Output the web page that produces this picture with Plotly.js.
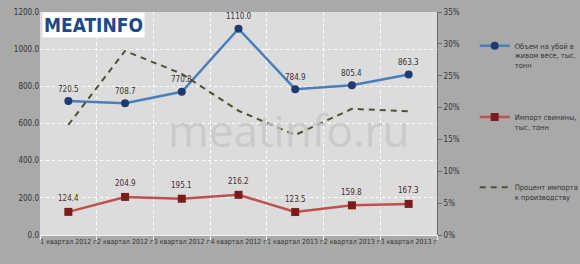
<!DOCTYPE html>
<html><head><meta charset="utf-8">
<script src="https://cdn.plot.ly/plotly-3.0.1.min.js"></script>
<style>html,body{margin:0;padding:0;background:#a9a9a9}#c{width:580px;height:264px}</style>
</head><body><div id="c"></div>
<script>
const categories = ['1 квартал 2012 г','2 квартал 2012 г','3 квартал 2012 г','4 квартал 2012 г','1 квартал 2013 г','2 квартал 2013 г','3 квартал 2013 г'];
const slaughter = [720.5, 708.7, 770.8, 1110.0, 784.9, 805.4, 863.3];
const importPork = [124.4, 204.9, 195.1, 216.2, 123.5, 159.8, 167.3];
const importShare = [17.3, 28.9, 25.3, 19.5, 15.7, 19.8, 19.4];
const seriesNames = ['Объем на убой в<br>живом весе, тыс.<br>тонн', 'Импорт свинины,<br>тыс. тонн', 'Процент импорта<br>к производству'];

const F = '"DejaVu Sans Condensed", "Liberation Sans Narrow", "Arial Narrow", sans-serif';
const txt = '#333333';

const traces = [
  {x: categories, y: slaughter, name: seriesNames[0], mode: 'lines+markers', legend: 'legend',
   line: {color: '#4a7ebb', width: 2.5}, marker: {color: '#1f3a6e', size: 8, symbol: 'circle'}, cliponaxis: false},
  {x: categories, y: importPork, name: seriesNames[1], mode: 'lines+markers', legend: 'legend2',
   line: {color: '#c0504d', width: 2.5}, marker: {color: '#7a1c1c', size: 8, symbol: 'square'}, cliponaxis: false},
  {x: categories, y: importShare, name: seriesNames[2], mode: 'lines', yaxis: 'y2', legend: 'legend3',
   line: {color: '#4f4f3a', width: 2, dash: '6px,5px'}}
];

const labelAnn = [];
categories.forEach((c, i) => {
  labelAnn.push({x: c, y: slaughter[i], xref: 'x', yref: 'y', text: slaughter[i].toFixed(1), showarrow: false,
    yanchor: 'middle', yshift: 12, font: {family: F, size: 8, color: txt}});
  labelAnn.push({x: c, y: importPork[i], xref: 'x', yref: 'y', text: importPork[i].toFixed(1), showarrow: false,
    yanchor: 'middle', yshift: 13, font: {family: F, size: 8, color: '#4a2a2a'}});
});

const legendBase = {bgcolor: 'rgba(0,0,0,0)', borderwidth: 0, font: {family: F, size: 7.5, color: txt},
  xanchor: 'left', yanchor: 'top', valign: 'top', itemwidth: 30, tracegroupgap: 0};

const layout = {
  width: 580, height: 264,
  margin: {l: 40, r: 143, t: 12, b: 29, autoexpand: false},
  paper_bgcolor: '#a9a9a9', plot_bgcolor: '#dcdcdc',
  showlegend: true,
  xaxis: {type: 'category', tickson: 'boundaries', ticks: 'outside', ticklen: 4, tickcolor: '#f0f0f0',
    showgrid: true, gridcolor: '#ffffff', griddash: 'dot', gridwidth: 1,
    tickfont: {family: F, size: 7, color: txt}, showline: true, linecolor: '#f0f0f0', linewidth: 1,
    range: [-0.5, 6.5], tickangle: 0},
  yaxis: {range: [0, 1200], dtick: 200, tickformat: '.1f', showgrid: true, gridcolor: '#ffffff', griddash: 'dot',
    tickfont: {family: F, size: 8, color: txt}, zeroline: false, showline: false, ticks: '', ticklen: 0},
  yaxis2: {overlaying: 'y', side: 'right', range: [0, 35], dtick: 5, ticksuffix: '%', showgrid: false,
    tickfont: {family: F, size: 8, color: txt}, showline: true, linecolor: '#6a6a6a', linewidth: 1,
    ticks: 'outside', ticklen: 4, tickcolor: '#6a6a6a', zeroline: false},
  legend: Object.assign({}, legendBase, {x: 1.095, y: 0.90}),
  legend2: Object.assign({}, legendBase, {x: 1.095, y: 0.58}),
  legend3: Object.assign({}, legendBase, {x: 1.095, y: 0.265}),
  annotations: labelAnn.concat([
    {text: 'meatinfo.ru', xref: 'paper', yref: 'paper', x: 0.625, y: 0.47, showarrow: false,
     font: {family: '"Open Sans", "DejaVu Sans", sans-serif', size: 44, color: 'rgba(198,198,198,0.8)'}},
    {text: '<b>MEATINFO</b>', xref: 'paper', yref: 'paper', x: 0.005, y: 1, xanchor: 'left', yanchor: 'top',
     showarrow: false, bgcolor: '#ffffff', borderpad: 1,
     font: {family: '"DejaVu Sans Condensed", "Liberation Sans Narrow", sans-serif', size: 19, color: '#1a4a8a'}}
  ])
};
Plotly.newPlot('c', traces, layout, {displayModeBar: false, staticPlot: true});
</script></body></html>
